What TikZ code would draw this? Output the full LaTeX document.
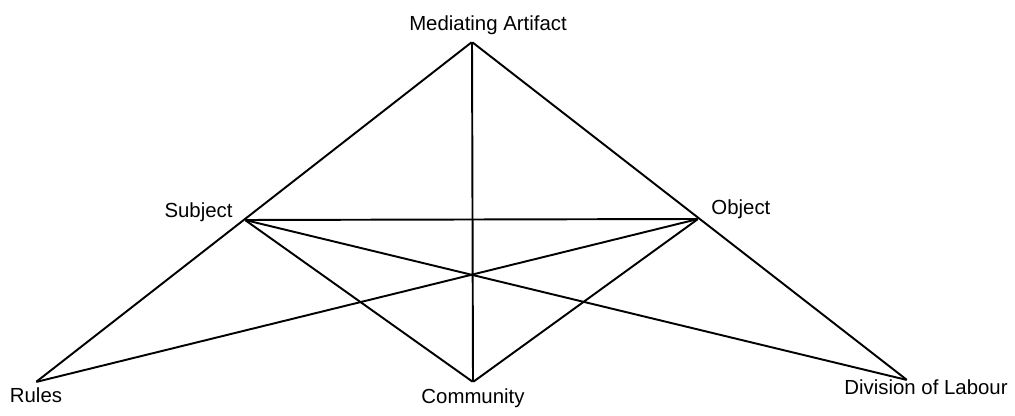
\documentclass[tikz,border=0pt]{standalone}
\usepackage{fontspec}
\setmainfont{Liberation Sans}
\usetikzlibrary{positioning}

\begin{document}
\begin{tikzpicture}[
    corner/.style={inner sep=0pt,minimum size=0pt},
    tag/.style={font=\fontsize{11.6}{13}\selectfont,inner sep=1pt},
    every label/.style={tag},
    link/.style={line width=1.1pt,line join=miter}]
  \useasboundingbox (0,0) rectangle (20.3,8.32);
  % corners of the triangle and points on its sides
  \node[corner,label={[xshift=0.32cm,yshift=0.1cm]above:Mediating Artifact}] (artifact) at (9.44,7.48) {};
  \node[corner,label={[xshift=-0.2cm,yshift=0.16cm]left:Subject}] (subject) at (4.90,3.92) {};
  \node[corner,label={[xshift=0.22cm,yshift=0.2cm]right:Object}] (object) at (13.96,3.94) {};
  \node[corner,label={[yshift=-0.06cm]below:Rules}] (rules) at (0.72,0.68) {};
  \node[corner,label={[yshift=-0.08cm]below:Community}] (community) at (9.46,0.68) {};
  \node[corner,label={[xshift=0.38cm,yshift=0.06cm]below:Division of Labour}] (labour) at (18.14,0.72) {};
  % outer triangle
  \draw[link] (rules) -- (artifact) -- (labour) -- cycle;
  \draw[link] (artifact) -- (community);
  % inner lines
  \draw[link] (subject) -- (object);
  \draw[link] (subject) -- (community) -- (object);
  \draw[link] (subject) -- (labour);
  \draw[link] (object) -- (rules);
\end{tikzpicture}
\end{document}
